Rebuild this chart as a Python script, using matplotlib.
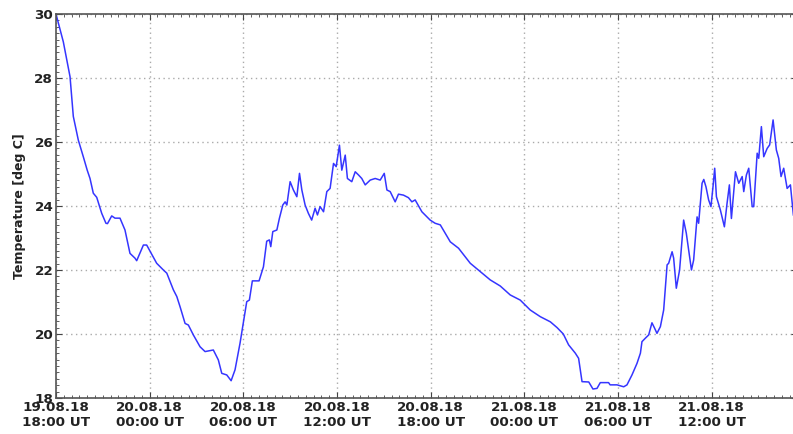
import matplotlib
matplotlib.use("Agg")
import matplotlib.pyplot as plt
import matplotlib.dates as mdates
import numpy as np
import pandas as pd

# hours after 19.08.18 18:00 UT, temperature in deg C
hours = [0, 0.47, 0.9, 1.11, 1.43, 1.75, 2.0, 2.18, 2.39, 2.61, 2.93, 3.2, 3.3,
         3.57, 3.78, 4.1, 4.42, 4.74, 5.06, 5.17, 5.6, 5.81, 6.45, 6.88, 7.1,
         7.52, 7.74, 7.95, 8.27, 8.48, 8.8, 9.23, 9.55, 10.08, 10.4, 10.62,
         10.94, 11.22, 11.47, 11.79, 12.22, 12.39, 12.58, 12.76, 13.01, 13.29,
         13.5, 13.67, 13.76, 13.89, 14.15, 14.31, 14.53, 14.68, 14.79, 15.0,
         15.21, 15.43, 15.6, 15.75, 15.96, 16.17, 16.38, 16.6, 16.75, 16.92,
         17.14, 17.35, 17.56, 17.78, 17.95, 18.16, 18.31, 18.53, 18.67, 18.95,
         19.17, 19.38, 19.59, 19.81, 20.13, 20.45, 20.77, 21.03, 21.2, 21.41,
         21.73, 21.94, 22.26, 22.58, 22.8, 23.01, 23.44, 23.97, 24.29, 24.62,
         25.26, 25.79, 26.54, 27.18, 27.82, 28.46, 29.1, 29.74, 30.38, 31.03,
         31.67, 32.1, 32.5, 32.84, 33.27, 33.48, 33.7, 34.13, 34.4, 34.66,
         34.87, 35.4, 35.5, 35.94, 36.37, 36.58, 36.9, 37.22, 37.44, 37.54,
         37.76, 37.97, 38.18, 38.35, 38.5, 38.72, 38.93, 39.15, 39.25, 39.47,
         39.57, 39.74, 39.95, 40.21, 40.38, 40.71, 40.85, 41.07, 41.17, 41.39,
         41.5, 41.64, 41.81, 41.96, 42.09, 42.2, 42.31, 42.56, 42.82, 42.99,
         43.14, 43.27, 43.53, 43.74, 43.96, 44.06, 44.23, 44.38, 44.6, 44.7,
         44.92, 45.02, 45.19, 45.34, 45.56, 45.72, 45.94, 46.15, 46.3, 46.45,
         46.62, 46.84, 47.05, 47.24]
temps = [30.0, 29.13, 28.04, 26.8, 26.06, 25.54, 25.12, 24.86, 24.4, 24.27,
         23.77, 23.46, 23.45, 23.69, 23.62, 23.62, 23.25, 22.52, 22.37, 22.29,
         22.78, 22.78, 22.21, 22.0, 21.9, 21.38, 21.17, 20.85, 20.33, 20.28,
         19.97, 19.6, 19.45, 19.5, 19.19, 18.77, 18.72, 18.54, 18.88, 19.71,
         21.01, 21.06, 21.66, 21.66, 21.66, 22.1, 22.9, 22.94, 22.73, 23.2,
         23.25, 23.61, 24.03, 24.13, 24.03, 24.76, 24.5, 24.29, 25.02, 24.5,
         24.03, 23.77, 23.56, 23.93, 23.72, 23.98, 23.82, 24.45, 24.55, 25.33,
         25.23, 25.9, 25.12, 25.59, 24.86, 24.76, 25.07, 24.97, 24.86, 24.66,
         24.81, 24.86, 24.81, 25.02, 24.5, 24.45, 24.13, 24.37, 24.34, 24.26,
         24.13, 24.19, 23.82, 23.56, 23.46, 23.41, 22.88, 22.68, 22.21, 21.95,
         21.69, 21.5, 21.22, 21.06, 20.75, 20.54, 20.38, 20.2, 20.0, 19.66,
         19.4, 19.24, 18.51, 18.5, 18.28, 18.3, 18.48, 18.48, 18.41, 18.41,
         18.35, 18.41, 18.72, 19.08, 19.4, 19.76, 19.87, 19.97, 20.35, 20.18,
         20.02, 20.23, 20.75, 22.16, 22.21, 22.57, 22.37, 21.43, 22.0, 23.56,
         23.15, 22.0, 22.31, 23.66, 23.46, 24.71, 24.83, 24.6, 24.19, 23.98,
         24.6, 25.18, 24.29, 23.88, 23.35, 24.08, 24.66, 23.61, 25.07, 24.71,
         24.92, 24.45, 24.97, 25.18, 23.98, 23.98, 25.65, 25.49, 26.48, 25.54,
         25.8, 25.91, 26.69, 25.75, 25.49, 24.92, 25.18, 24.55, 24.66, 23.72]

start = pd.Timestamp("2018-08-19 18:00")
times = start + pd.to_timedelta(hours, unit="h")

fig = plt.figure(figsize=(7.93, 4.34), dpi=100)
ax = fig.add_axes([0.0706, 0.083, 0.935, 0.8847])

ax.plot(times, temps, color="#3535ff", lw=1.1)

ax.set_xlim(start, start + pd.Timedelta(hours=47.5))
ax.set_ylim(18, 30)
ax.set_yticks(np.arange(18, 31, 2))
ax.yaxis.set_minor_locator(matplotlib.ticker.MultipleLocator(0.2))
ax.xaxis.set_major_locator(mdates.HourLocator(byhour=[0, 6, 12, 18]))
ax.xaxis.set_minor_locator(mdates.MinuteLocator(byminute=[0, 30]))
ax.xaxis.set_major_formatter(mdates.DateFormatter("%d.%m.%y\n%H:%M UT"))

ax.tick_params(which="both", direction="in", top=True, right=True,
               colors="#444444", labelcolor="#222222")
ax.tick_params(which="major", length=4, width=0.8, labelsize=9.7, pad=2)
ax.tick_params(which="minor", length=2, width=0.6)
for lab in ax.get_xticklabels() + ax.get_yticklabels():
    lab.set_fontweight("bold")
for sp in ax.spines.values():
    sp.set_color("#555555")
    sp.set_linewidth(1.2)

ax.grid(True, which="major", color="#aaaaaa", linestyle=(0, (1, 2.5)),
        linewidth=1.0)
ax.set_ylabel("Temperature [deg C]", fontsize=9, fontweight="bold",
              color="#222222", labelpad=6)

fig.savefig("out.png", dpi=100)
